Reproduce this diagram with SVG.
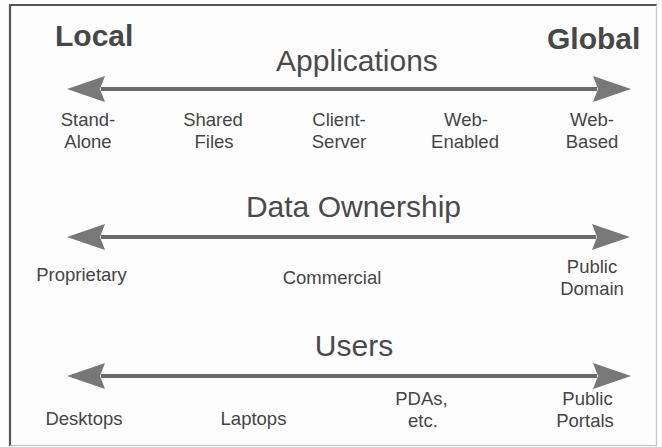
<svg xmlns="http://www.w3.org/2000/svg" width="662" height="447" viewBox="0 0 662 447">
<style>
.lbl{font-family:"Liberation Sans",Arial,sans-serif;font-size:18.5px;fill:#454545;text-anchor:middle}
.ttl{font-family:"Liberation Sans",Arial,sans-serif;font-size:30px;fill:#4a4a4a;text-anchor:middle}
.end{font-family:"Liberation Sans",Arial,sans-serif;font-size:30px;font-weight:bold;fill:#474747}
.shaft{stroke:#6a6a6a;stroke-width:4;fill:none}
</style>
<defs>
<marker id="head" viewBox="0 0 38 26" markerWidth="38" markerHeight="26" refX="4" refY="13" orient="auto-start-reverse" markerUnits="userSpaceOnUse">
<path d="M0,0 L38,13 L0,26 L5,13 Z" fill="#787878"/>
</marker>
</defs>
<rect x="0" y="0" width="662" height="447" fill="#fdfdfd"/>
<g id="frame">
<line x1="9" y1="5" x2="657" y2="5" stroke="#555" stroke-width="2.2"/>
<line x1="10" y1="4" x2="10" y2="446" stroke="#555" stroke-width="2.2"/>
<line x1="656.5" y1="5" x2="656.5" y2="446" stroke="#c4c4c4" stroke-width="1.2"/>
<line x1="10" y1="445.5" x2="657" y2="445.5" stroke="#bdbdbd" stroke-width="1.2"/>
</g>
<g id="connectors">
<line class="shaft" x1="101" y1="89" x2="597" y2="89" marker-start="url(#head)" marker-end="url(#head)"/>
<line class="shaft" x1="101" y1="237" x2="596" y2="237" marker-start="url(#head)" marker-end="url(#head)"/>
<line class="shaft" x1="101" y1="376" x2="597" y2="376" marker-start="url(#head)" marker-end="url(#head)"/>
</g>
<g id="local"><text class="end" x="55" y="46">Local</text></g>
<g id="global"><text class="end" x="547" y="49">Global</text></g>
<g id="applications"><text class="ttl" x="357" y="71">Applications</text></g>
<g id="stand-alone"><text class="lbl" x="88" y="125.5">Stand-</text><text class="lbl" x="88" y="147.5">Alone</text></g>
<g id="shared-files"><text class="lbl" x="213" y="125.5">Shared</text><text class="lbl" x="214" y="147.5">Files</text></g>
<g id="client-server"><text class="lbl" x="339" y="125.5">Client-</text><text class="lbl" x="339" y="147.5">Server</text></g>
<g id="web-enabled"><text class="lbl" x="466" y="125.5">Web-</text><text class="lbl" x="465" y="147.5">Enabled</text></g>
<g id="web-based"><text class="lbl" x="592" y="125.5">Web-</text><text class="lbl" x="592" y="147.5">Based</text></g>
<g id="data-ownership"><text class="ttl" x="353.5" y="216.5">Data Ownership</text></g>
<g id="proprietary"><text class="lbl" x="81.5" y="281">Proprietary</text></g>
<g id="commercial"><text class="lbl" x="332" y="284">Commercial</text></g>
<g id="public-domain"><text class="lbl" x="592" y="273">Public</text><text class="lbl" x="592" y="295">Domain</text></g>
<g id="users"><text class="ttl" x="354" y="356">Users</text></g>
<g id="desktops"><text class="lbl" x="84" y="425">Desktops</text></g>
<g id="laptops"><text class="lbl" x="253.5" y="425">Laptops</text></g>
<g id="pdas"><text class="lbl" x="421.5" y="405">PDAs,</text><text class="lbl" x="423" y="426.5">etc.</text></g>
<g id="public-portals"><text class="lbl" x="587.5" y="405">Public</text><text class="lbl" x="585" y="426.5">Portals</text></g>
</svg>
